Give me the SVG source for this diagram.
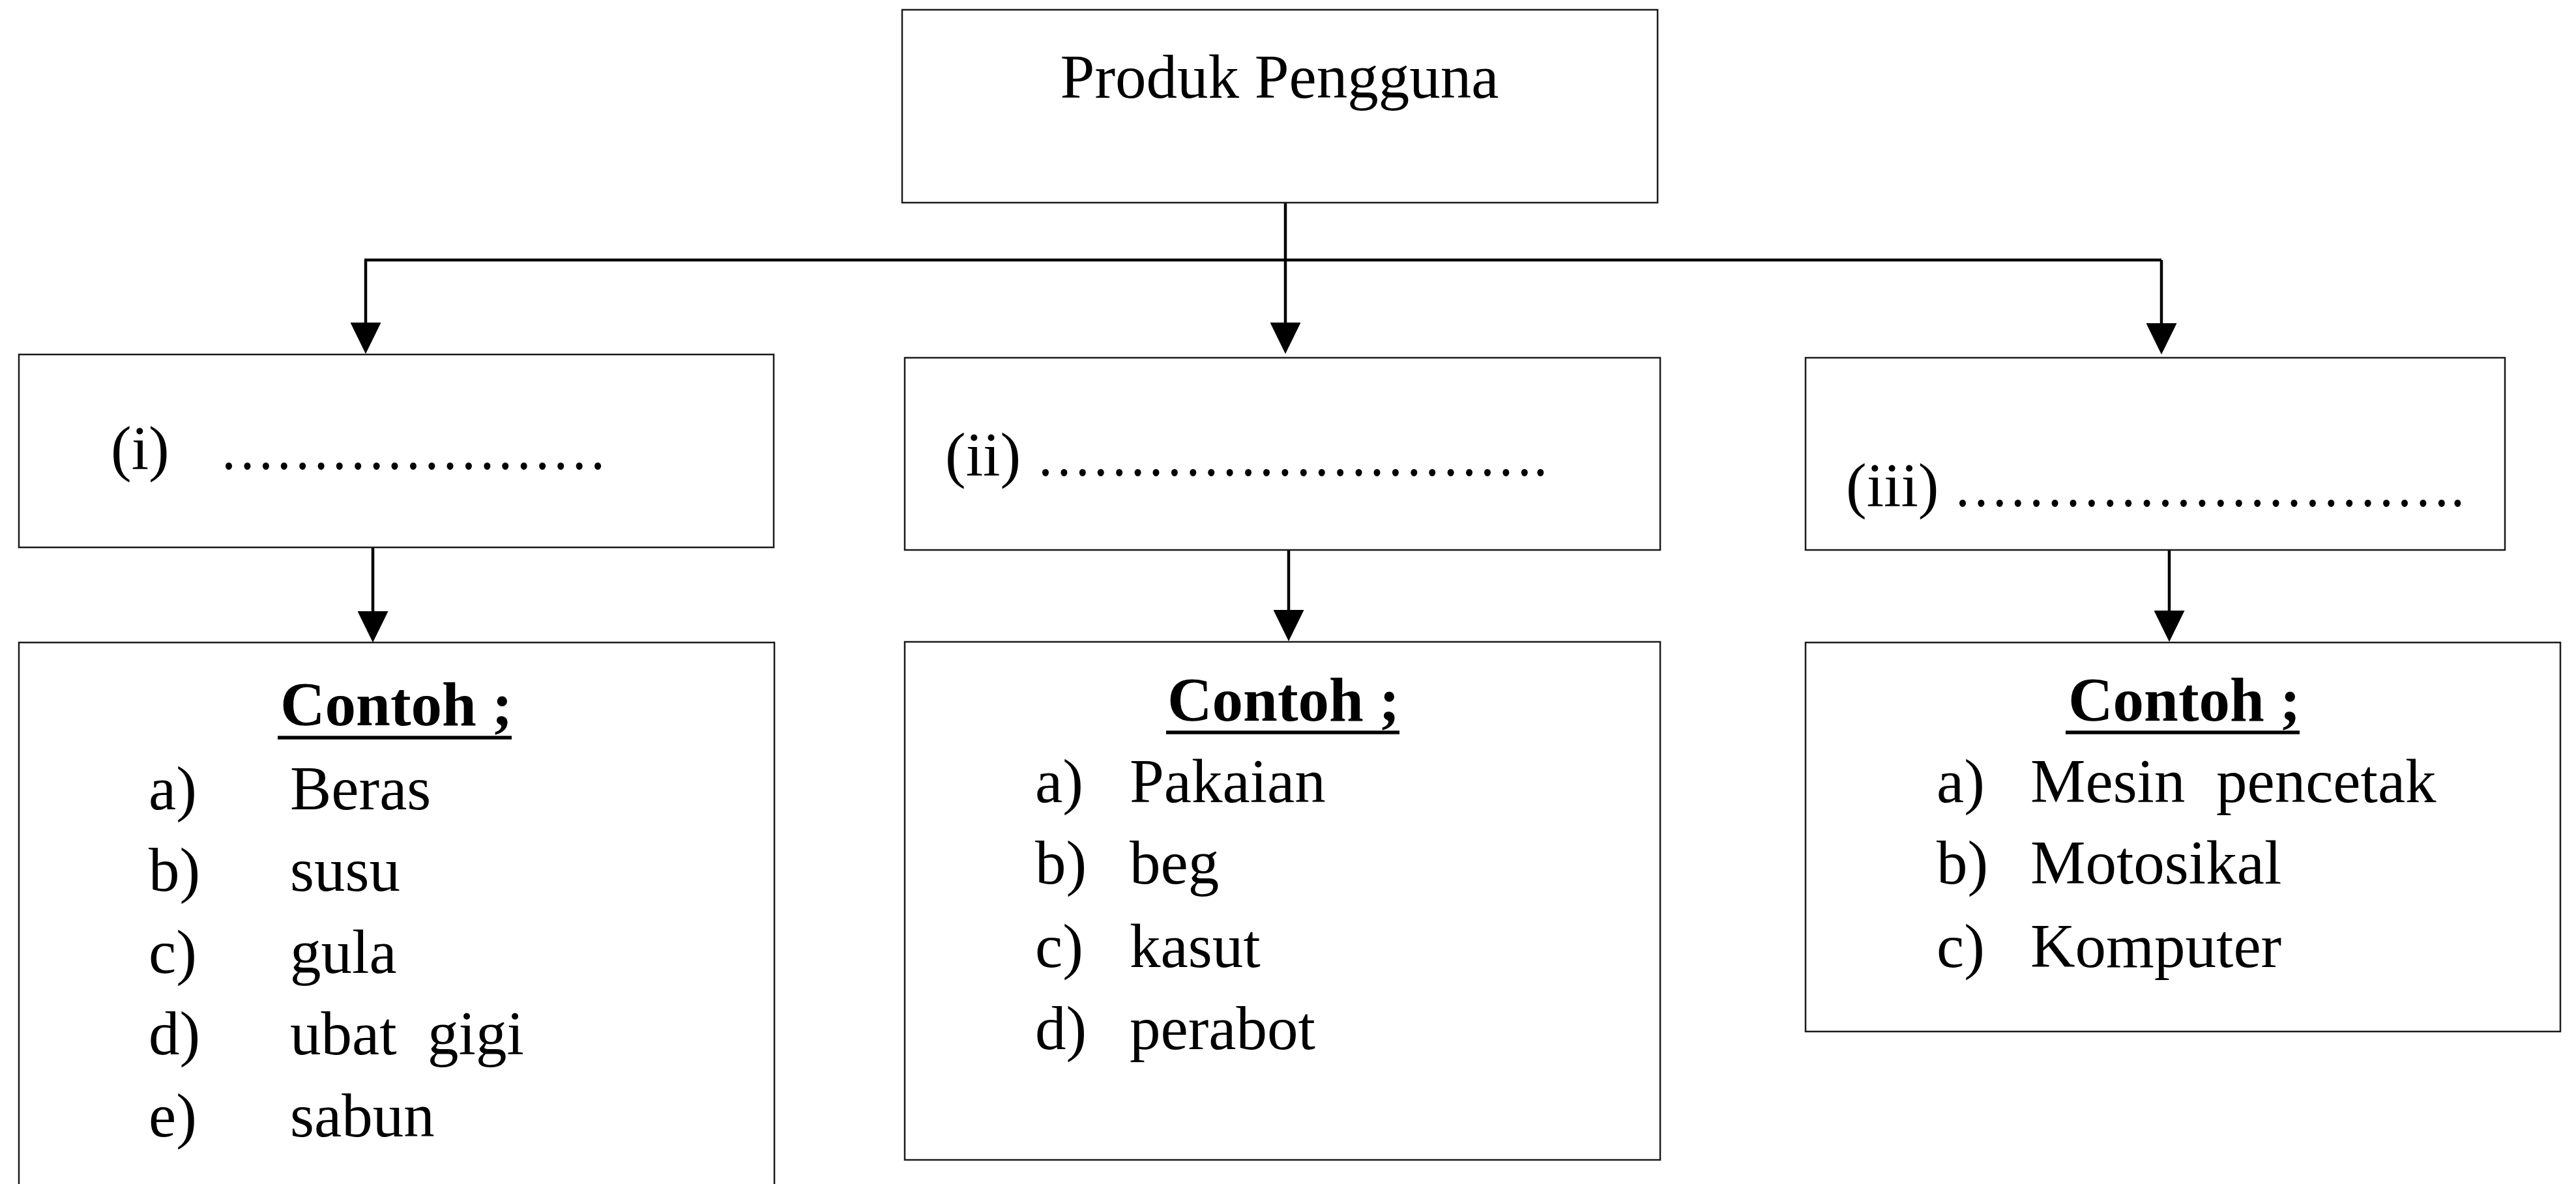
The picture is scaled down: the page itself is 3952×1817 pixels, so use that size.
<svg xmlns="http://www.w3.org/2000/svg" width="3952" height="1817" viewBox="0 0 3952 1817">
<style>
  .box { fill: #ffffff; stroke: #1a1a1a; stroke-width: 2.5; }
  .conn { fill: none; stroke: #000000; stroke-width: 4.5; }
  .t { font-family: "Liberation Serif", "Times New Roman", serif; font-size: 95px; fill: #000000; white-space: pre; }
  .b { font-weight: bold; }
  .ul { stroke: #000000; stroke-width: 5.5; }
</style>
<defs>
  <marker id="arrow" viewBox="0 0 48 47" refX="28" refY="23.5" markerWidth="48" markerHeight="47" markerUnits="userSpaceOnUse" orient="auto">
    <path d="M0,0 L48,23.5 L0,47 Z" fill="#000000"/>
  </marker>
</defs>
<rect x="0" y="0" width="3952" height="1817" fill="#ffffff"/>

<g id="connectors">
  <path class="conn" d="M1972,311 V399"/>
  <path class="conn" d="M559,399 H3316"/>
  <path class="conn" d="M561,399 V523" marker-end="url(#arrow)"/>
  <path class="conn" d="M1972,399 V523" marker-end="url(#arrow)"/>
  <path class="conn" d="M3316,399 V524" marker-end="url(#arrow)"/>
  <path class="conn" d="M572,840 V966" marker-end="url(#arrow)"/>
  <path class="conn" d="M1977,844 V964" marker-end="url(#arrow)"/>
  <path class="conn" d="M3328,844 V965" marker-end="url(#arrow)"/>
</g>

<g id="root">
  <rect class="box" x="1384" y="15" width="1159" height="296"/>
  <text class="t" x="1963" y="150" text-anchor="middle">Produk Pengguna</text>
</g>

<g id="cat-i">
  <rect class="box" x="29" y="544" width="1158" height="296"/>
  <text class="t" x="170" y="720">(i)</text>
  <text class="t" x="337" y="720" textLength="594" lengthAdjust="spacingAndGlyphs">…………………</text>
</g>

<g id="cat-ii">
  <rect class="box" x="1388" y="549" width="1159" height="295"/>
  <text class="t" x="1450" y="730">(ii)</text>
  <text class="t" x="1590" y="730" textLength="784" lengthAdjust="spacingAndGlyphs">……………………….</text>
</g>

<g id="cat-iii">
  <rect class="box" x="2770" y="549" width="1073" height="295"/>
  <text class="t" x="2832" y="777">(iii)</text>
  <text class="t" x="2997" y="777" textLength="784" lengthAdjust="spacingAndGlyphs">……………………….</text>
</g>

<g id="ex-i">
  <rect class="box" x="29" y="986" width="1159" height="900"/>
  <text class="t b" x="430" y="1113">Contoh ;</text>
  <line class="ul" x1="426" y1="1132" x2="785" y2="1132"/>
  <text class="t" x="228" y="1242">a)</text><text class="t" x="445" y="1242">Beras</text>
  <text class="t" x="228" y="1367">b)</text><text class="t" x="445" y="1367">susu</text>
  <text class="t" x="228" y="1493">c)</text><text class="t" x="445" y="1493">gula</text>
  <text class="t" x="228" y="1618">d)</text><text class="t" x="445" y="1618">ubat  gigi</text>
  <text class="t" x="228" y="1744">e)</text><text class="t" x="445" y="1744">sabun</text>
</g>

<g id="ex-ii">
  <rect class="box" x="1388" y="985" width="1159" height="795"/>
  <text class="t b" x="1791" y="1106">Contoh ;</text>
  <line class="ul" x1="1789" y1="1124" x2="2147" y2="1124"/>
  <text class="t" x="1588" y="1231">a)</text><text class="t" x="1733" y="1231">Pakaian</text>
  <text class="t" x="1588" y="1356">b)</text><text class="t" x="1733" y="1356">beg</text>
  <text class="t" x="1588" y="1484">c)</text><text class="t" x="1733" y="1484">kasut</text>
  <text class="t" x="1588" y="1610">d)</text><text class="t" x="1733" y="1610">perabot</text>
</g>

<g id="ex-iii">
  <rect class="box" x="2770" y="986" width="1158" height="597"/>
  <text class="t b" x="3173" y="1106">Contoh ;</text>
  <line class="ul" x1="3169" y1="1124" x2="3528" y2="1124"/>
  <text class="t" x="2971" y="1231">a)</text><text class="t" x="3115" y="1231">Mesin  pencetak</text>
  <text class="t" x="2971" y="1356">b)</text><text class="t" x="3115" y="1356">Motosikal</text>
  <text class="t" x="2971" y="1484">c)</text><text class="t" x="3115" y="1484">Komputer</text>
</g>
</svg>
